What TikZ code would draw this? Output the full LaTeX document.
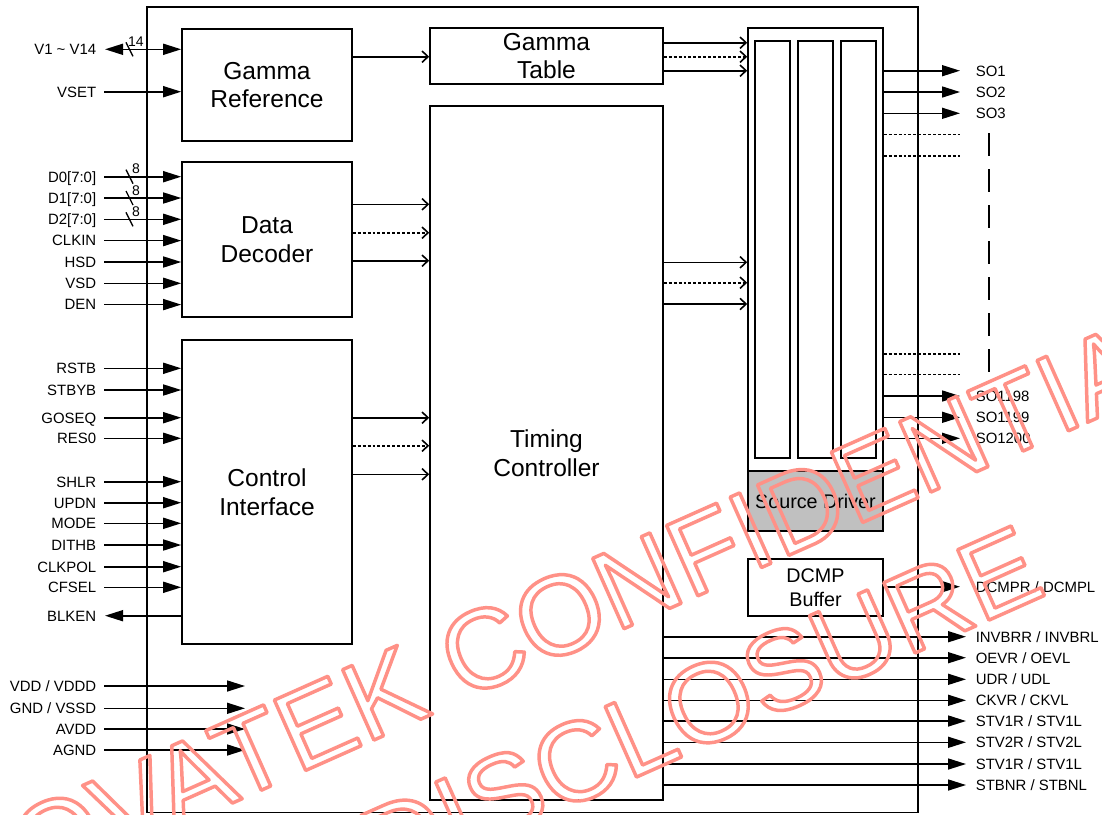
\documentclass[tikz,border=0pt]{standalone}
\usepackage{fontspec}
\setmainfont{Liberation Sans}
\usetikzlibrary{arrows.meta}
\definecolor{wmred}{RGB}{255,145,135}
\definecolor{sdgray}{RGB}{192,192,192}
\newcommand\lblfont{\fontsize{11.2}{13}\selectfont}
\newcommand\blkfont{\fontsize{18.4}{21.5}\selectfont}
\newcommand\midfont{\fontsize{14.8}{18}\selectfont}
\newcommand\busfont{\fontsize{10.5}{12}\selectfont}
\newcommand\wmfont{\fontsize{84}{84}\selectfont}
\newcommand\wmoutline[1]{\special{pdf:literal direct 1 Tr 2.6 w 1 j 1 J}#1\special{pdf:literal direct 0 Tr 0 j 0 J}}
\newcommand\inpin[4]{\node[lbl,anchor=east] (#1) at (97,#2) {#3};
  \draw[inarr] ([xshift=5.25pt]#1.east) -- (#1 -| #4.west);}
\newcommand\pwrin[3]{\node[lbl,anchor=east] (#1) at (97,#2) {#3};
  \coordinate (#1t) at (245,#2);
  \draw[inarr] ([xshift=5.25pt]#1.east) -- (#1t);}
\newcommand\outsig[5]{\node[lbl,anchor=west] (#1) at (975,#2) {#3};
  \coordinate (#1t) at (#5,#2);
  \draw[inarr] (#4.east |- #1t) -- (#1t);}
\begin{document}
\begin{tikzpicture}[x=0.75pt,y=-0.75pt,line width=1.2pt,
  box/.style={draw,line width=1.2pt,inner sep=0pt,align=center,font=\blkfont},
  plain/.style={draw,line width=1.2pt,inner sep=0pt},
  lbl/.style={font=\lblfont,inner sep=0pt,text height=8pt,text depth=0pt},
  bus/.style={font=\busfont,inner sep=0pt},
  inarr/.style={-{Triangle[length=13.5pt,width=8.25pt]}},
  biarr/.style={{Triangle[length=13.5pt,width=8.25pt]}-{Triangle[length=13.5pt,width=8.25pt]}},
  oarr/.style={-{Straight Barb[length=4.5pt,width=8.5pt]}},
  dotl/.style={dash pattern=on 2.2pt off 1.5pt},
  wmark/.style={text=wmred,font=\wmfont,inner sep=0pt,text height=60pt,text depth=0pt}]
\useasboundingbox (0,0) rectangle (1102,814);
\fill[white] (0,0) rectangle (1102,814);

% chip outline
\node[plain,minimum width=578.25pt,minimum height=604.125pt] (chip) at (532.5,409.75) {};

% blocks
\node[box,minimum width=127.5pt,minimum height=84pt] (gref) at (267,85) {Gamma\\Reference};
\node[box,minimum width=174.75pt,minimum height=42pt] (gtab) at (546.5,56) {Gamma\\Table};
\node[box,minimum width=174.75pt,minimum height=520.5pt] (tc) at (546.5,453) {Timing\\Controller};
\node[box,minimum width=127.5pt,minimum height=116.25pt] (dd) at (267,239.5) {Data\\Decoder};
\node[box,minimum width=127.5pt,minimum height=228pt] (ci) at (267,492) {Control\\Interface};
\node[plain,minimum width=101.25pt,minimum height=377.25pt] (sd) at (815.5,279.5) {};
\node[plain,minimum width=26.25pt,minimum height=312.75pt] (col1) at (772.5,249.5) {};
\node[plain,minimum width=26.25pt,minimum height=312.75pt] (col2) at (815.5,249.5) {};
\node[plain,minimum width=26.25pt,minimum height=312.75pt] (col3) at (858.5,249.5) {};
\node[plain,fill=sdgray,minimum width=101.25pt,minimum height=45pt,font=\midfont] (sdg) at (815.5,501) {Source Driver};
\node[plain,minimum width=101.25pt,minimum height=42.75pt,font=\midfont,align=center] (dcmp) at (815.5,587.5) {DCMP\\Buffer};

% internal buses
\draw[oarr] (gref.east |- 0,56.7) -- (gtab.west |- 0,56.7);
\draw[oarr] (gtab.east |- 0,42.7) -- (sd.west |- 0,42.7);
\draw[oarr,dotl] (gtab.east |- 0,56.7) -- (sd.west |- 0,56.7);
\draw[oarr] (gtab.east |- 0,70.7) -- (sd.west |- 0,70.7);
\draw[oarr] (dd.east |- 0,204.3) -- (tc.west |- 0,204.3);
\draw[oarr,dotl] (dd.east |- 0,232.7) -- (tc.west |- 0,232.7);
\draw[oarr] (dd.east |- 0,260.7) -- (tc.west |- 0,260.7);
\draw[oarr] (ci.east |- 0,417.7) -- (tc.west |- 0,417.7);
\draw[oarr,dotl] (ci.east |- 0,445.7) -- (tc.west |- 0,445.7);
\draw[oarr] (ci.east |- 0,474.3) -- (tc.west |- 0,474.3);
\draw[oarr] (tc.east |- 0,262.3) -- (sd.west |- 0,262.3);
\draw[oarr,dotl] (tc.east |- 0,282.7) -- (sd.west |- 0,282.7);
\draw[oarr] (tc.east |- 0,304) -- (sd.west |- 0,304);

% left inputs
\node[lbl,anchor=east] (v114) at (97,49.3) {V1 \textasciitilde\ V14};
\draw[biarr] ([xshift=6pt]v114.east) -- (v114 -| gref.west);
\coordinate (bs14) at (129.5,49.3);
\draw[line width=1pt] ([shift={(-3.5,-7)}]bs14) -- ([shift={(3.5,7)}]bs14);
\node[bus] (b14) at (136,41.5) {14};
\inpin{vset}{91.7}{VSET}{gref}

\inpin{d0}{176.7}{D0[7:0]}{dd}
\inpin{d1}{198}{D1[7:0]}{dd}
\inpin{d2}{219.3}{D2[7:0]}{dd}
\coordinate (bs0) at (129.5,176.7);
\coordinate (bs1) at (129.5,198);
\coordinate (bs2) at (129.5,219.3);
\draw[line width=1pt] ([shift={(-3.5,-7)}]bs0) -- ([shift={(3.5,7)}]bs0);
\draw[line width=1pt] ([shift={(-3.5,-7)}]bs1) -- ([shift={(3.5,7)}]bs1);
\draw[line width=1pt] ([shift={(-3.5,-7)}]bs2) -- ([shift={(3.5,7)}]bs2);
\node[bus] (b0) at (136,169) {8};
\node[bus] (b1) at (136,190.3) {8};
\node[bus] (b2) at (136,211.6) {8};
\inpin{clkin}{240.6}{CLKIN}{dd}
\inpin{hsd}{262}{HSD}{dd}
\inpin{vsd}{283.3}{VSD}{dd}
\inpin{den}{304.6}{DEN}{dd}

\inpin{rstb}{368.3}{RSTB}{ci}
\inpin{stbyb}{390}{STBYB}{ci}
\inpin{goseq}{417.7}{GOSEQ}{ci}
\inpin{res0}{438.3}{RES0}{ci}
\inpin{shlr}{481.7}{SHLR}{ci}
\inpin{updn}{502.7}{UPDN}{ci}
\inpin{mode}{523.3}{MODE}{ci}
\inpin{dithb}{545}{DITHB}{ci}
\inpin{clkpol}{566.7}{CLKPOL}{ci}
\inpin{cfsel}{587.3}{CFSEL}{ci}
\node[lbl,anchor=east] (blken) at (97,615.7) {BLKEN};
\draw[inarr] (blken -| ci.west) -- ([xshift=6pt]blken.east);

\pwrin{vdd}{686}{VDD / VDDD}
\pwrin{gnd}{708.3}{GND / VSSD}
\pwrin{avdd}{729}{AVDD}
\pwrin{agnd}{750}{AGND}

% source outputs
\outsig{so1}{70.7}{SO1}{sd}{960}
\outsig{so2}{92}{SO2}{sd}{960}
\outsig{so3}{113.3}{SO3}{sd}{960}
\coordinate (dt1) at (960,134.3);
\coordinate (dt2) at (960,156);
\coordinate (dt3) at (960,354);
\coordinate (dt4) at (960,374.3);
\draw[dotl] (sd.east |- dt1) -- (dt1);
\draw[dotl] (sd.east |- dt2) -- (dt2);
\draw[dotl] (sd.east |- dt3) -- (dt3);
\draw[dotl] (sd.east |- dt4) -- (dt4);
\coordinate (vd1) at (989,133);
\coordinate (vd2) at (989,372);
\draw[line width=1.6pt,dash pattern=on 17.25pt off 9.75pt] (vd1) -- (vd2);
\outsig{so1198}{396}{SO1198}{sd}{960}
\outsig{so1199}{417.3}{SO1199}{sd}{960}
\outsig{so1200}{438.3}{SO1200}{sd}{960}

\outsig{dcmpo}{586.7}{DCMPR / DCMPL}{dcmp}{960}

\outsig{invb}{636.7}{INVBRR / INVBRL}{tc}{966}
\outsig{oev}{657.7}{OEVR / OEVL}{tc}{966}
\outsig{ud}{679.3}{UDR / UDL}{tc}{966}
\outsig{ckv}{700.3}{CKVR / CKVL}{tc}{966}
\outsig{stva}{721}{STV1R / STV1L}{tc}{966}
\outsig{stvb}{742.3}{STV2R / STV2L}{tc}{966}
\outsig{stvc}{764}{STV1R / STV1L}{tc}{966}
\outsig{stbn}{785}{STBNR / STBNL}{tc}{966}

% watermark
\node[wmark,rotate=24] (wm1) at (570,609) {\wmoutline{NOVATEK CONFIDENTIAL}};
\node[wmark,rotate=24] (wm2) at (700,705) {\wmoutline{DISCLOSURE}};
\end{tikzpicture}
\end{document}
